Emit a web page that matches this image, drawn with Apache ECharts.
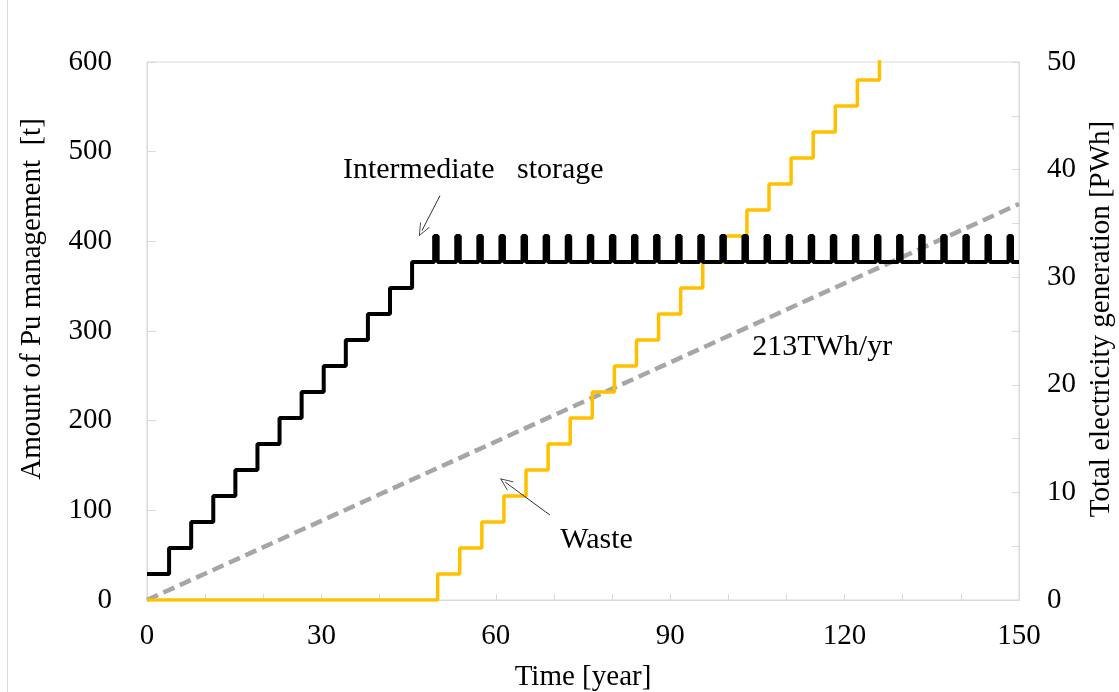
<!DOCTYPE html>
<html>
<head>
<meta charset="utf-8">
<script src="https://cdn.jsdelivr.net/npm/echarts@6/dist/echarts.min.js"></script>
<style>
html,body{margin:0;padding:0;background:#fff;}
#chart{width:1119px;height:692px;}
</style>
</head>
<body>
<div id="chart"></div>
<script>
// ---- data ----
const storageRiseYears = [0, 3.8, 7.6, 11.4, 15.2, 19, 22.8, 26.6, 30.4, 34.2, 38, 41.8, 45.6];
const storageLevels    = [29, 58, 87, 116, 145, 174, 203, 232, 261, 290, 319, 348, 377];
const storagePeakYears = [49.4, 53.2, 57, 60.8, 64.6, 68.4, 72.2, 76, 79.8, 83.6, 87.4, 91.2, 95, 98.8,
                          102.6, 106.4, 110.2, 114, 117.8, 121.6, 125.4, 129.2, 133, 136.8, 140.6, 144.4, 148.2];
const storagePeakLevel = 406;
const storageBaseLevel = 377;
const storagePeakDuration = 0.6;

const wasteRiseYears = [0, 50, 53.8, 57.6, 61.4, 65.2, 69, 72.8, 76.6, 80.4, 84.2, 88, 91.8, 95.6, 99.4,
                        103.2, 107, 110.8, 114.6, 118.4, 122.2, 126];
const wasteLevels    = [0, 29, 58, 87, 116, 145, 174, 203, 232, 261, 290, 319, 348, 377, 406,
                        435, 464, 493, 522, 551, 580, 609];

const elecYears  = [0, 150];
const elecValues = [0, 36.8];   // PWh

const xTicks = [0, 30, 60, 90, 120, 150];

// ---- build series data ----
const storageData = storageRiseYears.map((t, i) => [t, storageLevels[i]]);
storagePeakYears.forEach(t => {
  storageData.push([t, storagePeakLevel]);
  storageData.push([t + storagePeakDuration, storageBaseLevel]);
});
storageData.push([150, storageBaseLevel]);

const wasteData = wasteRiseYears.map((t, i) => [t, wasteLevels[i]]);
wasteData.push([150, wasteLevels[wasteLevels.length - 1]]);

const elecData = elecYears.map((t, i) => [t, elecValues[i]]);

const FONT = "'Liberation Serif', 'Times New Roman', serif";
const AX = '#d9d9d9';
const FS = 29;
const chevron = 'path://M0,0 L6,12 L5,12 L0,2 L-5,12 L-6,12 Z';

const chart = echarts.init(document.getElementById('chart'), null, {renderer: 'canvas'});
chart.setOption({
  animation: false,
  backgroundColor: '#fff',
  graphic: [{
    type: 'line', silent: true,
    shape: {x1: 7.5, y1: 0, x2: 7.5, y2: 692},
    style: {stroke: AX, lineWidth: 1}
  }],
  grid: {left: 147, right: 100, top: 62, bottom: 92, show: true, borderColor: AX, borderWidth: 1,
         containLabel: false, outerBoundsMode: 'none'},
  xAxis: {
    type: 'value', min: 0, max: 150, interval: 10,
    name: 'Time [year]', nameLocation: 'middle', nameGap: 63,
    nameTextStyle: {fontFamily: FONT, fontSize: FS, color: '#000'},
    axisLine: {show: true, lineStyle: {color: AX}},
    axisTick: {show: true, inside: true, length: 6, lineStyle: {color: AX}},
    splitLine: {show: false},
    axisLabel: {fontFamily: FONT, fontSize: FS, color: '#000', margin: 22,
      formatter: v => xTicks.indexOf(v) >= 0 ? String(v) : ''}
  },
  yAxis: [{
    type: 'value', min: 0, max: 600, interval: 100,
    name: 'Amount of Pu management  [t]', nameLocation: 'middle', nameGap: 100, nameRotate: 90,
    nameTextStyle: {fontFamily: FONT, fontSize: FS, color: '#000', padding: [0, 0, 0, 64]},
    axisLine: {show: true, lineStyle: {color: AX}},
    axisTick: {show: true, inside: true, length: 9, lineStyle: {color: AX}},
    splitLine: {show: false},
    axisLabel: {fontFamily: FONT, fontSize: FS, color: '#000', margin: 35}
  }, {
    type: 'value', min: 0, max: 50, interval: 5, position: 'right',
    name: 'Total electricity generation [PWh]', nameLocation: 'middle', nameGap: 68, nameRotate: 90,
    nameTextStyle: {fontFamily: FONT, fontSize: FS, color: '#000', padding: [0, 0, 0, 24]},
    axisLine: {show: true, lineStyle: {color: AX}},
    axisTick: {show: true, inside: true, length: 7, lineStyle: {color: AX}},
    splitLine: {show: false},
    axisLabel: {fontFamily: FONT, fontSize: FS, color: '#000', margin: 28,
      formatter: v => (v % 10 === 0 ? String(v) : '')}
  }],
  series: [{
    name: 'Total electricity generation', type: 'line', yAxisIndex: 1,
    data: elecData, showSymbol: false, symbol: 'none',
    lineStyle: {color: '#a6a6a6', width: 4.5, type: [12, 6]},
    markPoint: {
      symbol: 'circle', symbolSize: 0,
      label: {show: true, position: 'right', distance: 0, fontFamily: FONT, fontSize: 30, color: '#000',
        formatter: p => p.name},
      data: [{name: '213TWh/yr', coord: [104.1, 23.5]}]
    }
  }, {
    name: 'Waste', type: 'line', step: 'end',
    data: wasteData, showSymbol: false, symbol: 'none', clip: true,
    lineStyle: {color: '#ffc000', width: 3.5},
    markPoint: {
      symbol: 'circle', symbolSize: 0,
      label: {show: true, position: 'right', distance: 0, fontFamily: FONT, fontSize: 30, color: '#000',
        formatter: p => p.name},
      data: [{name: 'Waste', coord: [71.1, 67]}]
    },
    markLine: {
      silent: true, symbol: ['none', chevron], symbolSize: [11, 13],
      label: {show: false},
      lineStyle: {color: '#333', width: 1, type: 'solid'},
      data: [[{coord: [69.3, 94.8]}, {coord: [61.6, 131.5]}]]
    }
  }, {
    name: 'Intermediate storage', type: 'line', step: 'end',
    data: storageData, showSymbol: false, symbol: 'none',
    lineStyle: {color: '#000', width: 4},
    markPoint: {
      symbol: 'circle', symbolSize: 0,
      label: {show: true, position: 'right', distance: 0, fontFamily: FONT, fontSize: 30, color: '#000',
        formatter: p => p.name},
      data: [{name: 'Intermediate   storage', coord: [33.7, 479]}]
    },
    markLine: {
      silent: true, symbol: ['none', chevron], symbolSize: [11, 13],
      label: {show: false},
      lineStyle: {color: '#333', width: 1, type: 'solid'},
      data: [[{coord: [50.4, 451]}, {coord: [47.3, 412]}]]
    }
  }]
});
</script>
</body>
</html>
